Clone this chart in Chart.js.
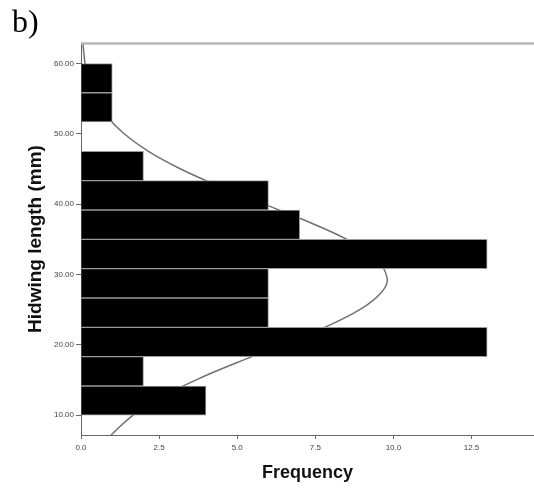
<!DOCTYPE html>
<html>
<head>
<meta charset="utf-8">
<script src="https://cdn.jsdelivr.net/npm/chart.js@4.4.1/dist/chart.umd.min.js"></script>
<style>
    html, body { margin: 0; padding: 0; background: #fff; }
    #wrap { position: relative; width: 534px; height: 489px; }
    #panel-label {
        position: absolute; left: 12px; top: 3px;
        font-family: 'Liberation Serif', 'Times New Roman', serif;
        font-size: 32px; color: #000;
    }
</style>
</head>
<body>
<div id="wrap">
    <canvas id="chart-hindwing"></canvas>
    <div id="panel-label">b)</div>
</div>
<script>
// histogram bins (mm), lower edges and width
const binLower = [10.00, 14.17, 18.33, 22.50, 26.67, 30.83, 35.00, 39.17, 43.33, 47.50, 51.67, 55.83]
const binWidth = 4.1667
const counts = [4, 2, 13, 6, 6, 13, 7, 6, 2, 0, 1, 1]

// fitted normal curve, read along the length axis
const curveLength = [7.2, 10, 12.5, 15, 17.5, 20, 22.5, 25, 27.5, 29.5, 32.5, 35, 37.5, 40, 42.5, 45, 47.5, 50, 52.5, 55, 57.5, 60, 62.9]
const curveFreq = [0.96, 1.66, 2.54, 3.67, 5.00, 6.43, 7.80, 8.92, 9.62, 9.80, 9.40, 8.51, 7.27, 5.86, 4.45, 3.19, 2.16, 1.38, 0.83, 0.47, 0.25, 0.13, 0.06]

const lengthTicks = [10, 20, 30, 40, 50, 60]
const freqTicks = [0, 2.5, 5, 7.5, 10, 12.5]

const tickFont = { family: "'Liberation Sans', Arial, sans-serif", size: 8 }
const titleFont = { family: "'Liberation Sans', Arial, sans-serif", size: 18, weight: 'bold' }

// light frame line along the top of the plot
const topFrame = {
    id: 'topFrame',
    afterDraw(chart) {
        const { ctx, chartArea } = chart
        ctx.save()
        ctx.strokeStyle = '#b8b8b8'
        ctx.lineWidth = 2.5
        ctx.beginPath()
        ctx.moveTo(chartArea.left, chartArea.top + 0.5)
        ctx.lineTo(chartArea.right, chartArea.top + 0.5)
        ctx.stroke()
        ctx.restore()
    }
}

const ctx = document.getElementById('chart-hindwing').getContext('2d')

new Chart(ctx, {
    type: 'bar',
    data: {
        datasets: [{
            type: 'bar',
            data: counts.map((c, i) => ({ x: c, y: binLower[i] + binWidth / 2 })),
            backgroundColor: '#000000',
            borderColor: '#9a9a9a',
            borderWidth: 1,
            borderSkipped: 'start',
            barPercentage: 1,
            categoryPercentage: 1,
            order: 0
        }, {
            type: 'line',
            data: curveLength.map((v, i) => ({ x: curveFreq[i], y: v })),
            borderColor: '#707070',
            borderWidth: 1.5,
            pointRadius: 0,
            tension: 0.4,
            fill: false,
            order: 1
        }]
    },
    options: {
        indexAxis: 'y',
        responsive: true,
        maintainAspectRatio: false,
        animation: false,
        layout: { padding: { top: 43, right: 0, bottom: 0, left: 0 } },
        plugins: {
            legend: { display: false },
            tooltip: { enabled: false }
        },
        scales: {
            y: {
                type: 'linear',
                offset: false,
                min: 7.2,
                max: 62.9,
                afterBuildTicks: (scale) => { scale.ticks = lengthTicks.map(v => ({ value: v })) },
                afterFit: (scale) => { scale.width = 81 },
                ticks: {
                    font: tickFont,
                    color: '#444',
                    padding: 2,
                    callback: (v) => Number(v).toFixed(2)
                },
                grid: { display: true, offset: false, drawOnChartArea: false, drawTicks: true, tickLength: 5, color: '#666' },
                border: { display: true, color: '#666', width: 1 },
                title: {
                    display: true,
                    text: 'Hidwing length (mm)',
                    font: { family: "'Liberation Sans', Arial, sans-serif", size: 19, weight: 'bold' },
                    color: '#111',
                    padding: { top: 24, bottom: 0 }
                }
            },
            x: {
                type: 'linear',
                min: 0,
                max: 14.5,
                afterBuildTicks: (scale) => { scale.ticks = freqTicks.map(v => ({ value: v })) },
                afterFit: (scale) => { scale.height = 54 },
                ticks: {
                    font: tickFont,
                    color: '#444',
                    padding: 4,
                    maxRotation: 0,
                    callback: (v) => Number(v).toFixed(1)
                },
                grid: { display: true, offset: false, drawOnChartArea: false, drawTicks: true, tickLength: 4, color: '#666' },
                border: { display: true, color: '#666', width: 1 },
                title: {
                    display: true,
                    text: 'Frequency',
                    font: titleFont,
                    color: '#111',
                    padding: { top: 0, bottom: 5 }
                }
            }
        }
    },
    plugins: [topFrame]
})
</script>
</body>
</html>
